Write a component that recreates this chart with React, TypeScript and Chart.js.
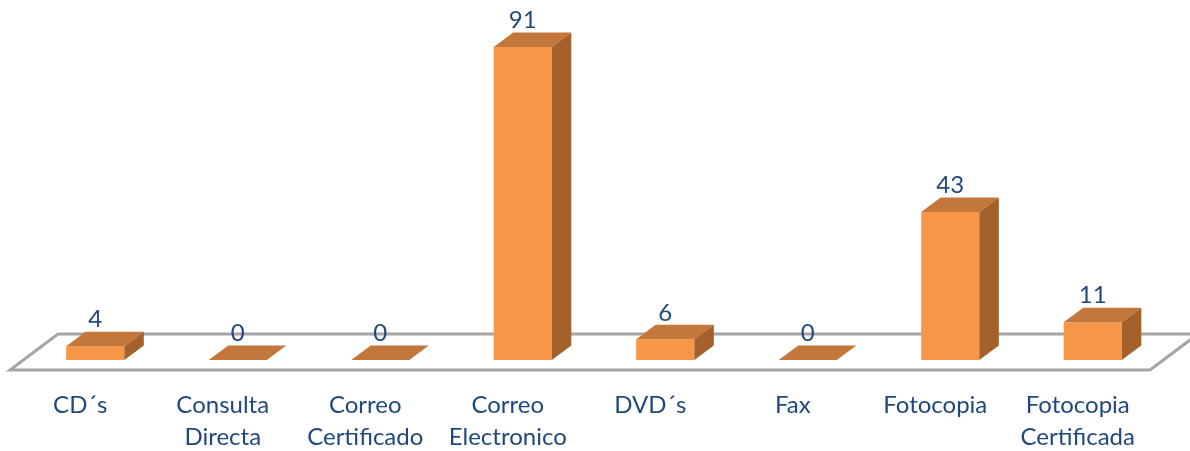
import React, { useEffect, useRef } from 'react';
import { Chart, registerables } from 'chart.js';

Chart.register(...registerables);

const categories: string[][] = [
  ['CD´s'],
  ['Consulta', 'Directa'],
  ['Correo', 'Certificado'],
  ['Correo', 'Electronico'],
  ['DVD´s'],
  ['Fax'],
  ['Fotocopia'],
  ['Fotocopia', 'Certificada'],
];
const values: number[] = [4, 0, 0, 91, 6, 0, 43, 11];
const yMin = 0;
const yMax = 100;

const FRONT = '#F79646';
const TOP = '#C4773A';
const SIDE = '#A4612B';
const TEXT = '#1F497D';
const FLOOR = '#A6A6A6';
const FONT = 'Lato';
const DX = 19.5;
const DY = -14.5;

const bar3d = {
  id: 'bar3d',
  beforeDatasetsDraw(chart: any) {
    const { ctx, chartArea: ca } = chart;
    const y0 = chart.scales.y.getPixelForValue(0);
    ctx.save();
    ctx.strokeStyle = FLOOR;
    ctx.lineWidth = 3;
    ctx.lineJoin = 'miter';
    ctx.beginPath();
    ctx.moveTo(ca.left - 14, y0 + 10);
    ctx.lineTo(ca.right - 14, y0 + 10);
    ctx.lineTo(ca.right + 34, y0 - 26);
    ctx.lineTo(ca.left + 34, y0 - 26);
    ctx.closePath();
    ctx.stroke();
    ctx.restore();
  },
  afterDatasetsDraw(chart: any) {
    const { ctx } = chart;
    const meta = chart.getDatasetMeta(0);
    ctx.save();
    meta.data.forEach((bar: any, i: number) => {
      const { x, y, base, width } = bar.getProps(['x', 'y', 'base', 'width'], true);
      const l = x - width / 2;
      const r = x + width / 2;
      // top face
      ctx.fillStyle = TOP;
      ctx.beginPath();
      ctx.moveTo(l, y);
      ctx.lineTo(l + DX, y + DY);
      ctx.lineTo(r + DX, y + DY);
      ctx.lineTo(r, y);
      ctx.closePath();
      ctx.fill();
      // side face
      if (base - y > 0.5) {
        ctx.fillStyle = SIDE;
        ctx.beginPath();
        ctx.moveTo(r, y);
        ctx.lineTo(r + DX, y + DY);
        ctx.lineTo(r + DX, base + DY);
        ctx.lineTo(r, base);
        ctx.closePath();
        ctx.fill();
      }
      // value label
      ctx.fillStyle = TEXT;
      ctx.font = `24px ${FONT}`;
      ctx.textAlign = 'center';
      ctx.textBaseline = 'middle';
      ctx.fillText(String(values[i]), x, y + DY - 12);
    });
    ctx.restore();
  },
};

export default function App() {
  const ref = useRef<HTMLCanvasElement | null>(null);
  useEffect(() => {
    if (!ref.current) return;
    const chart = new Chart(ref.current, {
      type: 'bar',
      data: {
        labels: categories,
        datasets: [
          {
            data: values,
            backgroundColor: FRONT,
            borderWidth: 0,
            barPercentage: 0.8,
            categoryPercentage: 0.51,
          },
        ],
      },
      options: {
        responsive: false,
        animation: false,
        events: [],
        layout: { padding: { left: 24, right: 26, top: 16, bottom: 0 } },
        plugins: { legend: { display: false }, tooltip: { enabled: false } },
        scales: {
          x: {
            grid: { display: false, drawTicks: false },
            border: { display: false },
            ticks: {
              autoSkip: false,
              maxRotation: 0,
              minRotation: 0,
              labelOffset: -15,
              padding: 29,
              color: TEXT,
              font: { family: FONT, size: 24, lineHeight: 32 / 24 },
            },
            afterFit: (scale: any) => {
              scale.height = 91;
            },
          },
          y: { display: false, min: yMin, max: yMax },
        },
      },
      plugins: [bar3d],
    });
    return () => chart.destroy();
  }, []);
  return (
    <div style={{ position: 'absolute', left: 0, top: 0, width: 1190, height: 451, background: '#fff' }}>
      <canvas ref={ref} width={1190} height={451} />
    </div>
  );
}
